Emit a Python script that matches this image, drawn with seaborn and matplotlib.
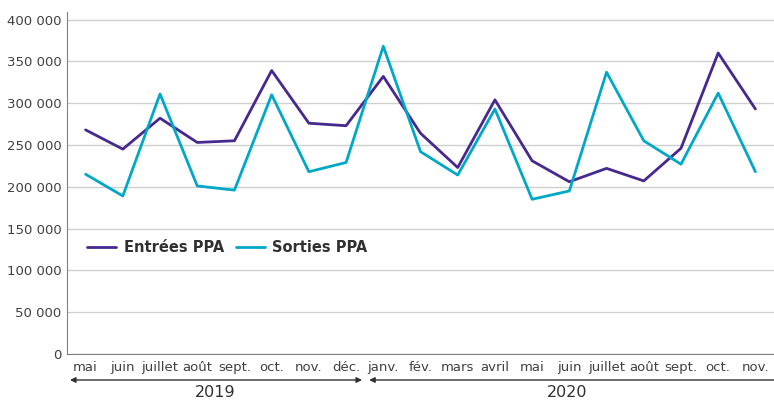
import numpy as np
import matplotlib.pyplot as plt
import seaborn as sns
import pandas as pd

mois = ["mai", "juin", "juillet", "août", "sept.", "oct.", "nov.", "déc.",
        "janv.", "fév.", "mars", "avril", "mai", "juin", "juillet", "août",
        "sept.", "oct.", "nov."]
entrees = [268000, 245000, 282000, 253000, 255000, 339000, 276000, 273000,
           332000, 264000, 223000, 304000, 231000, 206000, 222000, 207000,
           246000, 360000, 293000]
sorties = [215000, 189000, 311000, 201000, 196000, 310000, 218000, 229000,
           368000, 242000, 214000, 293000, 185000, 195000, 337000, 255000,
           227000, 312000, 218000]
annees = ["2019", "2020"]

sns.set_style("white")
plt.rcParams['font.family'] = ['DejaVu Sans']

n = len(mois)
df = pd.DataFrame({
    "pos": list(range(n)) * 2,
    "valeur": entrees + sorties,
    "serie": ["Entrées PPA"] * n + ["Sorties PPA"] * n,
})

fig = plt.figure(figsize=(7.74, 4.01), dpi=100)
ax = fig.add_axes([67 / 774, 47 / 401, 707 / 774, 342 / 401])

sns.lineplot(data=df, x="pos", y="valeur", hue="serie",
             palette=["#46288F", "#00A8C8"], linewidth=2, ax=ax)

ax.set_xlim(-0.5, n - 0.5)
ax.set_ylim(0, 409000)
yt = np.arange(0, 400001, 50000)
ax.set_yticks(yt)
ax.set_yticklabels([f"{v:,}".replace(",", " ") for v in yt], fontsize=9.5, color="#404040")
ax.yaxis.grid(True, color="#D0D0D0", linewidth=1)
ax.tick_params(axis="y", length=0, pad=4)

ax.set_xticks(range(n))
ax.set_xticklabels(mois, fontsize=9.5, color="#404040")
ax.set_xticks(np.arange(0.5, n - 1, 1), minor=True)
ax.tick_params(axis="x", which="major", length=0, pad=5)
ax.tick_params(axis="x", which="minor", length=8, color="#C8C8C8", width=1)
ax.set_xlabel("")
ax.set_ylabel("")

for s in ["top", "right"]:
    ax.spines[s].set_visible(False)
ax.spines["left"].set_color("#808080")
ax.spines["bottom"].set_color("#808080")

# fleches sous les mois
tr = ax.get_xaxis_transform()
for x0, x1, style in [(-0.42, 7.43, "<|-|>"), (7.62, 18.6, "<|-")]:
    ax.annotate("", xy=(x1, -0.076), xytext=(x0, -0.076), xycoords=tr,
                textcoords=tr, annotation_clip=False,
                arrowprops=dict(arrowstyle=style, color="#303030", lw=1,
                                mutation_scale=8, shrinkA=0, shrinkB=0))
ax.text(3.48, -0.134, annees[0], transform=tr, ha="center", va="bottom",
        fontsize=11.5, color="#303030")
ax.text(12.94, -0.134, annees[1], transform=tr, ha="center", va="bottom",
        fontsize=11.5, color="#303030")

leg = ax.legend(loc="center left", bbox_to_anchor=(0.01, 0.31), ncol=2,
                frameon=False, handlelength=2.0, columnspacing=0.8,
                handletextpad=0.5, prop={"weight": "bold", "size": 10.5})
for t in leg.get_texts():
    t.set_color("#303030")

plt.savefig("out.png", dpi=100)
